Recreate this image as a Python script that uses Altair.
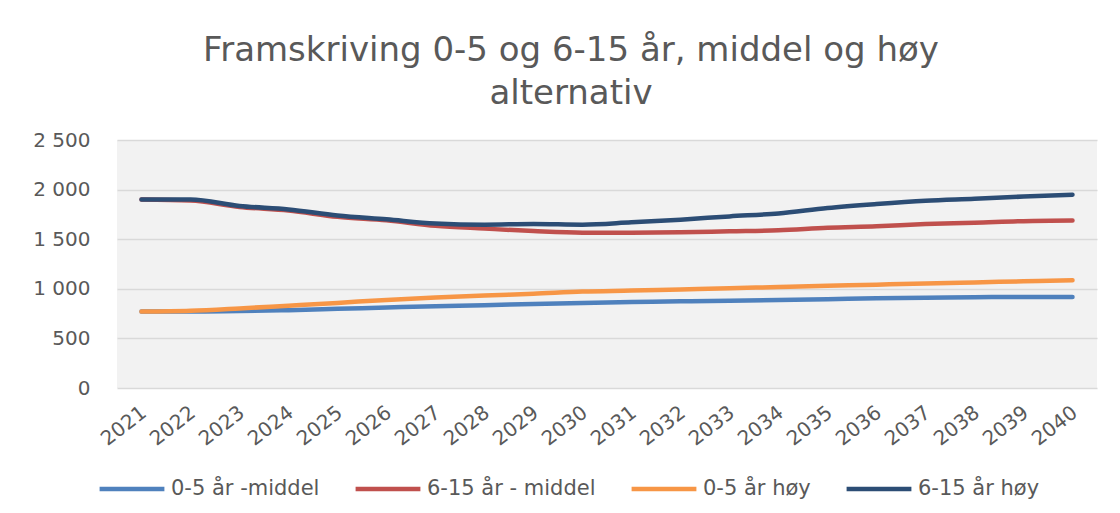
import altair as alt
import pandas as pd

years = [str(y) for y in range(2021, 2041)]
series_names = ["0-5 år -middel", "6-15 år - middel", "0-5 år høy", "6-15 år høy"]
colors = ["#4f81bd", "#c0504d", "#f79646", "#2c4d75"]

v_05_mid = [770, 770, 775, 785, 798, 812, 825, 834, 848, 858, 866, 874, 880, 886, 895, 905, 910, 915, 918, 918]
v_615_mid = [1900, 1890, 1825, 1790, 1725, 1690, 1635, 1607, 1582, 1566, 1566, 1570, 1580, 1590, 1615, 1630, 1652, 1665, 1682, 1688]
v_05_hoy = [770, 778, 802, 830, 858, 888, 912, 933, 950, 972, 982, 994, 1005, 1018, 1030, 1042, 1053, 1064, 1076, 1087]
v_615_hoy = [1900, 1900, 1835, 1800, 1740, 1700, 1658, 1646, 1653, 1646, 1670, 1697, 1730, 1760, 1815, 1855, 1888, 1908, 1930, 1948]

all_vals = [v_05_mid, v_615_mid, v_05_hoy, v_615_hoy]
rows = []
for name, vals in zip(series_names, all_vals):
    for y, v in zip(years, vals):
        rows.append({"year": y, "serie": name, "value": v})
df = pd.DataFrame(rows)

FONT = "DejaVu Sans"
TXT = "#595959"

x_enc = alt.X("year:O", scale=alt.Scale(type="point", padding=0.5),
              axis=alt.Axis(title=None, labelAngle=-38, labelAlign="right", labelBaseline="middle",
                            labelOffset=2, labelPadding=22, ticks=False, domain=False,
                            labelFontSize=20, labelColor=TXT, labelFont=FONT))
y_enc = alt.Y("value:Q", scale=alt.Scale(domain=[0, 2500]),
              axis=alt.Axis(title=None, values=[0, 500, 1000, 1500, 2000, 2500],
                            labelExpr="replace(format(datum.value, ','), ',', ' ')",
                            ticks=False, domain=False, labelPadding=27,
                            labelFontSize=20, labelColor=TXT, labelFont=FONT,
                            gridColor="#d9d9d9", gridWidth=1.3))
color_enc = alt.Color("serie:N", scale=alt.Scale(domain=series_names, range=colors),
                      legend=alt.Legend(title=None, orient="none", direction="horizontal",
                                        legendX=-20, legendY=314, symbolType="stroke",
                                        symbolSize=4200, symbolStrokeWidth=4.5,
                                        labelFontSize=21, labelColor=TXT, labelFont=FONT,
                                        labelLimit=400, columnPadding=26, labelOffset=4))

layers = []
for name in series_names:
    layers.append(
        alt.Chart(df).transform_filter(alt.datum.serie == name)
        .mark_line(strokeWidth=4.5, strokeCap="round", interpolate="monotone")
        .encode(x=x_enc, y=y_enc, color=color_enc)
    )

chart = alt.layer(*layers).properties(
    width=980, height=248,
    title=alt.TitleParams(text=["Framskriving 0-5 og 6-15 år, middel og høy", "alternativ"],
                          fontSize=34, font=FONT, fontWeight="normal", color=TXT,
                          anchor="middle", dx=-36, offset=19, lineHeight=43),
    autosize=alt.AutoSizeParams(type="none"),
    padding={"left": 109, "top": 132, "right": 15, "bottom": 117},
    background="white",
).configure_view(fill="#f2f2f2", stroke=None)

chart.save("out.html", embed_options={"renderer": "svg", "actions": False})
